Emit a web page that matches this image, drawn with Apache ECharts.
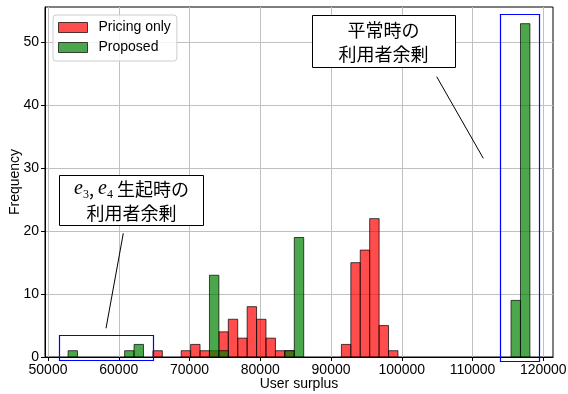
<!DOCTYPE html>
<html>
<head>
<meta charset="utf-8">
<script src="https://cdn.jsdelivr.net/npm/echarts@6/dist/echarts.min.js"></script>
<style>
  html, body { margin: 0; padding: 0; background: #fff; }
  #chart { width: 568px; height: 394px; }
</style>
</head>
<body>
<div id="chart"></div>
<script>
// Histogram bins shared by both series
const binStart = 52840;
const binWidth = 1332;

// Frequency per bin (49 bins)
const pricingOnly = [
  0, 0, 0, 0, 0, 0, 0, 0, 0, 1,
  0, 0, 1, 2, 1, 1, 4, 6, 3, 8,
  6, 3, 1, 1, 0, 0, 0, 0, 0, 2,
  15, 17, 22, 5, 1, 0, 0, 0, 0, 0,
  0, 0, 0, 0, 0, 0, 0, 0, 0
];
const proposed = [
  1, 0, 0, 0, 0, 0, 1, 2, 0, 0,
  0, 0, 0, 0, 0, 13, 1, 0, 0, 0,
  0, 0, 0, 1, 19, 0, 0, 0, 0, 0,
  0, 0, 0, 0, 0, 0, 0, 0, 0, 0,
  0, 0, 0, 0, 0, 0, 0, 9, 53
];

const seriesNames = ['Pricing only', 'Proposed'];
const xTicks = [50000, 60000, 70000, 80000, 90000, 100000, 110000, 120000];
const yTicks = [0, 10, 20, 30, 40, 50];

const nBins = proposed.length;
const binEnd = binStart + nBins * binWidth;
const pad = 0.05 * (binEnd - binStart);
const yMax = 1.05 * Math.max(...pricingOnly, ...proposed);

function toBars(counts) {
  const out = [];
  counts.forEach((c, i) => {
    if (c > 0) out.push([binStart + i * binWidth, binStart + (i + 1) * binWidth, c]);
  });
  return out;
}

const RED = 'rgba(255,0,0,0.7)';
const GREEN = 'rgba(0,128,0,0.7)';
const EDGE = 'rgba(0,0,0,0.7)';
const FONT = '"Liberation Sans", Arial, sans-serif';
const CJK = '"Noto Sans CJK JP", "Noto Sans CJK SC", sans-serif';

function renderBar(params, api) {
  const p0 = api.coord([api.value(0), api.value(2)]);
  const p1 = api.coord([api.value(1), 0]);
  return {
    type: 'rect',
    shape: { x: p0[0], y: p0[1], width: p1[0] - p0[0], height: p1[1] - p0[1] },
    style: { fill: api.visual('color'), stroke: EDGE, lineWidth: 1 }
  };
}

const chart = echarts.init(document.getElementById('chart'), null, { renderer: 'canvas' });

chart.setOption({
  animation: false,
  backgroundColor: '#fff',
  grid: {
    left: 45, right: 15, top: 7, bottom: 37,
    outerBoundsMode: 'none',
    show: true, borderColor: '#000', borderWidth: 1, backgroundColor: 'transparent'
  },
  legend: {
    left: 53, top: 15, orient: 'vertical',
    padding: [5, 6, 6, 5],
    itemWidth: 29, itemHeight: 10, itemGap: 5,
    backgroundColor: 'rgba(255,255,255,0.8)',
    borderColor: '#cccccc', borderWidth: 1, borderRadius: 3,
    textStyle: { fontFamily: FONT, fontSize: 14, color: '#000', lineHeight: 15, padding: [0, 0, 0, 6] },
    data: [
      { name: seriesNames[0], icon: 'rect', itemStyle: { color: RED, borderColor: EDGE, borderWidth: 1 } },
      { name: seriesNames[1], icon: 'rect', itemStyle: { color: GREEN, borderColor: EDGE, borderWidth: 1 } }
    ]
  },
  xAxis: {
    type: 'value',
    min: binStart - pad,
    max: binEnd + pad,
    name: 'User surplus',
    nameLocation: 'middle',
    nameGap: 20,
    nameMoveOverlap: false,
    nameTextStyle: { fontFamily: FONT, fontSize: 14, color: '#000' },
    axisLine: { show: true, onZero: false, lineStyle: { color: '#000', width: 1 } },
    axisTick: { show: true, length: 4, customValues: xTicks, lineStyle: { color: '#000' } },
    axisLabel: {
      customValues: xTicks, margin: 6, fontFamily: FONT, fontSize: 14, color: '#000',
      formatter: v => String(v)
    },
    splitLine: { show: true, lineStyle: { color: '#c0c0c0', width: 1 } }
  },
  yAxis: {
    type: 'value',
    min: 0,
    max: yMax,
    name: 'Frequency',
    nameLocation: 'middle',
    nameGap: 23,
    nameMoveOverlap: false,
    nameTextStyle: { fontFamily: FONT, fontSize: 14, color: '#000' },
    axisLine: { show: true, lineStyle: { color: '#000', width: 1 } },
    axisTick: { show: true, length: 4, customValues: yTicks, lineStyle: { color: '#000' } },
    axisLabel: { customValues: yTicks, margin: 6, fontFamily: FONT, fontSize: 14, color: '#000', formatter: v => String(v) },
    splitLine: { show: true, lineStyle: { color: '#c0c0c0', width: 1 } }
  },
  series: [
    {
      name: seriesNames[0], type: 'custom', renderItem: renderBar,
      itemStyle: { color: RED }, encode: { x: [0, 1], y: 2 },
      data: toBars(pricingOnly), z: 2
    },
    {
      name: seriesNames[1], type: 'custom', renderItem: renderBar,
      itemStyle: { color: GREEN }, encode: { x: [0, 1], y: 2 },
      data: toBars(proposed), z: 3
    }
  ]
});

// Highlight frames around the two groups of outcomes (data coordinates)
const frames = [
  { x: [51600, 64870], y: [-0.6, 3.45] },
  { x: [113950, 119490], y: [-0.5, 54.6] }
];

const graphics = frames.map(f => {
  const a = chart.convertToPixel({ gridIndex: 0 }, [f.x[0], f.y[1]]);
  const b = chart.convertToPixel({ gridIndex: 0 }, [f.x[1], f.y[0]]);
  return {
    type: 'rect', z: 100,
    shape: { x: Math.round(a[0]) + 0.5, y: Math.round(a[1]) + 0.5, width: Math.round(b[0] - a[0]), height: Math.round(b[1] - a[1]) },
    style: { fill: 'none', stroke: '#0000ff', lineWidth: 1.2 }
  };
});

// Callout boxes with leader lines
graphics.push(
  { type: 'line', z: 100, shape: { x1: 436.7, y1: 76.7, x2: 483.3, y2: 158.3 }, style: { stroke: '#000', lineWidth: 1 } },
  { type: 'line', z: 100, shape: { x1: 123.3, y1: 233.3, x2: 106, y2: 328.3 }, style: { stroke: '#000', lineWidth: 1 } },
  { type: 'rect', z: 100, shape: { x: 312.5, y: 15.5, width: 143, height: 52 }, style: { fill: '#fff', stroke: '#000', lineWidth: 1 } },
  {
    type: 'text', z: 101, x: 383.5, y: 42,
    style: {
      text: '平常時の\n利用者余剰', fontFamily: CJK, fontSize: 18, lineHeight: 24,
      fill: '#000', align: 'center', verticalAlign: 'middle'
    }
  },
  { type: 'rect', z: 100, shape: { x: 59.5, y: 175.5, width: 144, height: 50 }, style: { fill: '#fff', stroke: '#000', lineWidth: 1 } },
  {
    type: 'text', z: 101, x: 131.5, y: 201,
    style: {
      text: '{e|e}{s|3}{t|, }{e|e}{s|4}{t| 生起時の}\n{t|利用者余剰}',
      align: 'center', verticalAlign: 'middle', fill: '#000',
      rich: {
        e: { fontFamily: '"Liberation Serif", "DejaVu Serif", serif', fontStyle: 'italic', fontSize: 20, lineHeight: 24 },
        s: { fontFamily: '"Liberation Serif", "DejaVu Serif", serif', fontSize: 12, lineHeight: 24, verticalAlign: 'bottom' },
        t: { fontFamily: CJK, fontSize: 18, lineHeight: 24 }
      }
    }
  }
);

chart.setOption({ graphic: graphics });
</script>
</body>
</html>
